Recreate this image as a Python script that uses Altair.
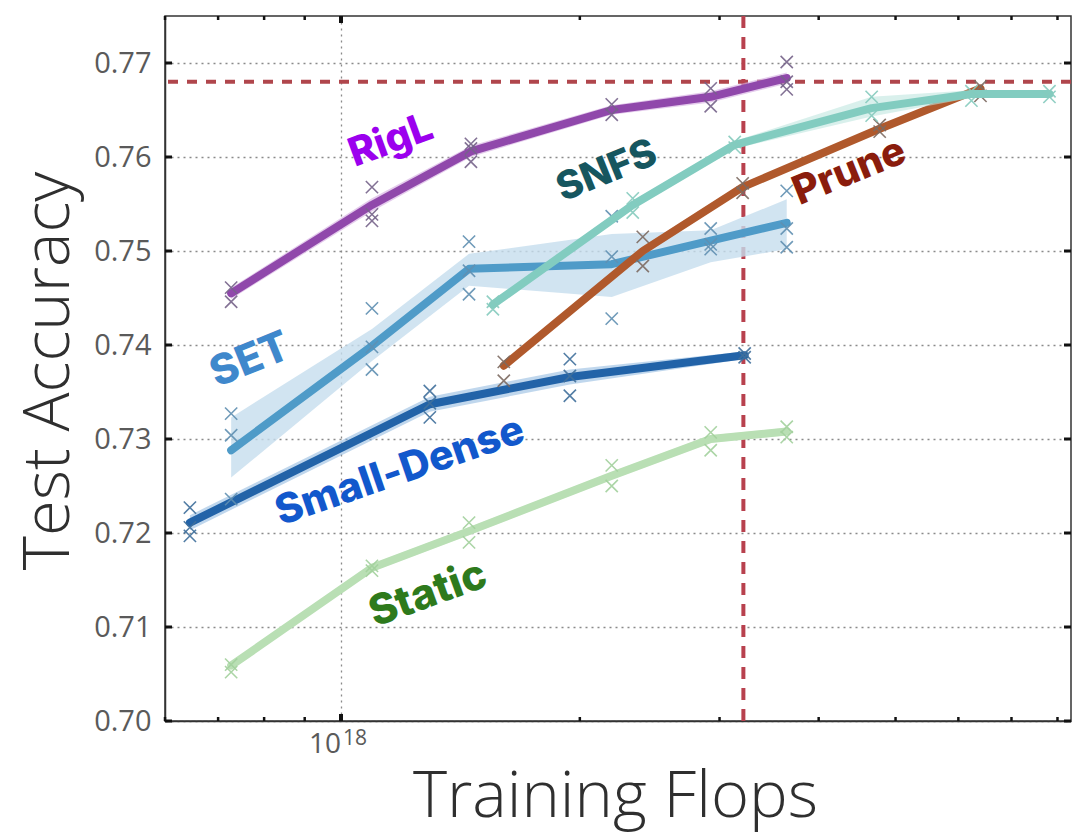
import altair as alt
import pandas as pd

# ---- data: training FLOPs, mean test accuracy, confidence band, individual runs ----
rigl_flops = [7.27e17, 1.094e18, 1.458e18, 2.194e18, 2.924e18, 3.646e18]
rigl_mean = [0.7455, 0.7549, 0.7606, 0.7650, 0.7664, 0.7684]
rigl_lo = [0.7449, 0.7542, 0.7600, 0.7645, 0.7658, 0.7678]
rigl_hi = [0.7461, 0.7556, 0.7612, 0.7655, 0.7670, 0.7690]
rigl_runs = [[0.7461, 0.7446], [0.7568, 0.7532, 0.7539], [0.7614, 0.7595, 0.7609],
             [0.7656, 0.7645], [0.7673, 0.7654], [0.7701, 0.7672, 0.7680]]

set_flops = [7.27e17, 1.094e18, 1.450e18, 2.194e18, 2.924e18, 3.646e18]
set_mean = [0.7288, 0.7399, 0.7481, 0.7486, 0.7511, 0.7530]
set_lo = [0.7259, 0.7383, 0.7463, 0.7451, 0.7488, 0.7502]
set_hi = [0.7323, 0.7417, 0.7497, 0.7518, 0.7522, 0.7555]
set_runs = [[0.7327, 0.7304, 0.7236], [0.7439, 0.7374, 0.7398], [0.7510, 0.7454, 0.7479],
            [0.7494, 0.7428, 0.7537], [0.7524, 0.7502, 0.7507], [0.7564, 0.7524, 0.7504]]

dense_flops = [6.45e17, 1.294e18, 1.943e18, 3.227e18]
dense_mean = [0.7211, 0.7337, 0.7366, 0.7389]
dense_lo = [0.7203, 0.7329, 0.7358, 0.7385]
dense_hi = [0.7219, 0.7345, 0.7374, 0.7393]
dense_runs = [[0.7227, 0.7197, 0.7206], [0.7351, 0.7323, 0.7338],
              [0.7385, 0.7346, 0.7367], [0.7391, 0.7387]]

snfs_flops = [1.554e18, 2.332e18, 3.135e18, 4.665e18, 6.232e18, 7.816e18]
snfs_mean = [0.7443, 0.7549, 0.7613, 0.7652, 0.7667, 0.7667]
snfs_lo = [0.7439, 0.7545, 0.7609, 0.7643, 0.7663, 0.7664]
snfs_hi = [0.7447, 0.7553, 0.7617, 0.7664, 0.7671, 0.7670]
snfs_runs = [[0.7446, 0.7438], [0.7556, 0.7541], [0.7616, 0.7610],
             [0.7664, 0.7644], [0.7670, 0.7660], [0.7670, 0.7664]]

prune_flops = [1.604e18, 2.401e18, 3.208e18, 4.775e18, 6.398e18]
prune_mean = [0.7378, 0.7500, 0.7568, 0.7630, 0.7673]
prune_lo = [0.7374, 0.7495, 0.7564, 0.7627, 0.7670]
prune_hi = [0.7382, 0.7505, 0.7572, 0.7633, 0.7676]
prune_runs = [[0.7382, 0.7362], [0.7515, 0.7484], [0.7572, 0.7562],
              [0.7634, 0.7627], [0.7675, 0.7665]]

static_flops = [7.27e17, 1.094e18, 1.450e18, 2.194e18, 2.924e18, 3.646e18]
static_mean = [0.7059, 0.7163, 0.7202, 0.7261, 0.7300, 0.7308]
static_lo = [0.7055, 0.7159, 0.7198, 0.7257, 0.7296, 0.7304]
static_hi = [0.7063, 0.7167, 0.7206, 0.7265, 0.7304, 0.7312]
static_runs = [[0.7060, 0.7052], [0.7165, 0.7160], [0.7211, 0.7190],
               [0.7272, 0.7250], [0.7307, 0.7288], [0.7313, 0.7302]]

# dense baseline (reference cross-hair)
baseline_flops = 3.215e18
baseline_acc = 0.768

# axis ticks
y_ticks = [0.70, 0.71, 0.72, 0.73, 0.74, 0.75, 0.76, 0.77]
x_minor_ticks = [6e17, 7e17, 8e17, 9e17, 2e18, 3e18, 4e18, 5e18, 6e18, 7e18, 8e18]
x_major_ticks = [1e18]

# in-plot labels: text, anchor FLOPs, anchor accuracy
label_text = ["RigL", "SNFS", "Prune", "SET", "Small-Dense", "Static"]
label_flops = [1.156e18, 2.163e18, 4.375e18, 7.68e17, 1.187e18, 1.287e18]
label_acc = [0.7617, 0.7585, 0.7584, 0.7384, 0.7265, 0.7135]

series = {
    "Static": (static_flops, static_mean, static_lo, static_hi, static_runs),
    "Small-Dense": (dense_flops, dense_mean, dense_lo, dense_hi, dense_runs),
    "SET": (set_flops, set_mean, set_lo, set_hi, set_runs),
    "RigL": (rigl_flops, rigl_mean, rigl_lo, rigl_hi, rigl_runs),
    "Prune": (prune_flops, prune_mean, prune_lo, prune_hi, prune_runs),
    "SNFS": (snfs_flops, snfs_mean, snfs_lo, snfs_hi, snfs_runs),
}

# ---- styling ----
W, H = 906, 705
style = {
    "Static": dict(line="#b9dfb4", band="#d3ecd0", band_op=0.6, marker="#a3d19d"),
    "Small-Dense": dict(line="#2263a8", band="#8db6de", band_op=0.55, marker="#40709c"),
    "SET": dict(line="#4f9bc8", band="#c6dded", band_op=0.8, marker="#6090b2"),
    "RigL": dict(line="#9048ab", band="#d2a9e0", band_op=0.6, marker="#76638a"),
    "Prune": dict(line="#b0592c", band="#dcae94", band_op=0.5, marker="#7d6b62"),
    "SNFS": dict(line="#82ccc0", band="#bfe6df", band_op=0.6, marker="#86cbbe"),
}
label_style = {
    "RigL": dict(color="#9b00ee", angle=340, size=40),
    "SNFS": dict(color="#16565f", angle=338, size=39),
    "Prune": dict(color="#8a1c0c", angle=338, size=40),
    "SET": dict(color="#3f88cc", angle=338, size=42),
    "Small-Dense": dict(color="#1258cc", angle=341, size=41),
    "Static": dict(color="#2e7a1c", angle=340, size=42),
}
X_SHAPE = "M-1,-1L1,1M1,-1L-1,1"
AXIS_FONT = "Open Sans"
LABEL_FONT = "Inter"

x_scale = alt.Scale(type="log", domain=[6e17, 8.32e18], nice=False)
y_scale = alt.Scale(domain=[0.70, 0.775], nice=False, zero=False)

x_axis = alt.Axis(values=[1e18], labels=False, ticks=False, grid=True,
                  gridColor="#8a8a8a", gridDash=[2, 4], gridWidth=1.3,
                  domainColor="#333333", domainWidth=1.5,
                  title="Training Flops", titleFont=AXIS_FONT, titleFontSize=65,
                  titleFontWeight=300, titleColor="#2f2f2f",
                  titleX=W / 2 - 3, titleY=95, titleBaseline="alphabetic",
                  titleAlign="center")
y_axis = alt.Axis(values=y_ticks, format=".2f", ticks=False, grid=True,
                  gridColor="#8a8a8a", gridDash=[2, 4], gridWidth=1.3,
                  domainColor="#333333", domainWidth=1.5,
                  labelFont=AXIS_FONT, labelFontSize=29, labelColor="#5a5a5a",
                  labelPadding=14,
                  title="Test Accuracy", titleFont=AXIS_FONT, titleFontSize=65,
                  titleFontWeight=300, titleColor="#2f2f2f",
                  titleAngle=270, titleX=-97, titleY=H / 2 + 2,
                  titleBaseline="alphabetic", titleAlign="center")


def X(field):
    return alt.X(field, type="quantitative", scale=x_scale, axis=x_axis)


def Y(field):
    return alt.Y(field, type="quantitative", scale=y_scale, axis=y_axis)


layers = []

# tick marks drawn inside the frame on all four sides
yt = pd.DataFrame({"v": y_ticks})
layers.append(alt.Chart(yt).mark_rule(color="#111111", strokeWidth=3).encode(
    y=Y("v"), x=alt.value(0), x2=alt.value(7)))
layers.append(alt.Chart(yt).mark_rule(color="#111111", strokeWidth=3).encode(
    y=Y("v"), x=alt.value(W - 7), x2=alt.value(W)))
xm = pd.DataFrame({"v": x_minor_ticks})
layers.append(alt.Chart(xm).mark_rule(color="#111111", strokeWidth=2.5).encode(
    x=X("v"), y=alt.value(H), y2=alt.value(H - 4)))
layers.append(alt.Chart(xm).mark_rule(color="#111111", strokeWidth=2.5).encode(
    x=X("v"), y=alt.value(0), y2=alt.value(4)))
xM = pd.DataFrame({"v": x_major_ticks})
layers.append(alt.Chart(xM).mark_rule(color="#111111", strokeWidth=4).encode(
    x=X("v"), y=alt.value(H), y2=alt.value(H - 7)))
layers.append(alt.Chart(xM).mark_rule(color="#111111", strokeWidth=4).encode(
    x=X("v"), y=alt.value(0), y2=alt.value(7)))

# x tick label 10^18
layers.append(alt.Chart(xM).mark_text(text="10", align="right", baseline="top",
                                      font=AXIS_FONT, fontSize=28, color="#5a5a5a").encode(
    x=X("v"), y=alt.value(H + 10)))
layers.append(alt.Chart(xM).mark_text(text="18", align="left", baseline="top", dx=2,
                                      font=AXIS_FONT, fontSize=21, color="#5a5a5a").encode(
    x=X("v"), y=alt.value(H + 7)))

# dense baseline cross-hair
layers.append(alt.Chart(pd.DataFrame({"v": [baseline_acc]})).mark_rule(
    color="#b0464c", strokeWidth=4, strokeDash=[10, 9]).encode(y=Y("v")))
layers.append(alt.Chart(pd.DataFrame({"v": [baseline_flops]})).mark_rule(
    color="#b8414e", strokeWidth=4, strokeDash=[12, 9]).encode(x=X("v")))

# each method: confidence band, mean line, individual runs
for name, (flops, mean, lo, hi, runs) in series.items():
    st = style[name]
    df = pd.DataFrame({"flops": flops, "mean": mean, "lo": lo, "hi": hi})
    rf, ra = [], []
    for f, rr in zip(flops, runs):
        for r in rr:
            rf.append(f)
            ra.append(r)
    runs_df = pd.DataFrame({"flops": rf, "acc": ra})
    layers.append(alt.Chart(df).mark_area(color=st["band"], opacity=st["band_op"]).encode(
        x=X("flops"), y=Y("lo"), y2="hi"))
    layers.append(alt.Chart(df).mark_line(color=st["line"], strokeWidth=8,
                                          strokeCap="round", strokeJoin="round").encode(
        x=X("flops"), y=Y("mean")))
    layers.append(alt.Chart(runs_df).mark_point(shape=X_SHAPE, size=150, filled=False,
                                                strokeWidth=1.6, color=st["marker"],
                                                opacity=0.9).encode(
        x=X("flops"), y=Y("acc")))

# method labels
for t, f, a in zip(label_text, label_flops, label_acc):
    ls = label_style[t]
    layers.append(alt.Chart(pd.DataFrame({"flops": [f], "acc": [a], "t": [t]})).mark_text(
        align="center", baseline="middle", font=LABEL_FONT, fontWeight=800,
        fontSize=ls["size"], angle=ls["angle"], color=ls["color"]).encode(
        x=X("flops"), y=Y("acc"), text="t:N"))

chart = alt.layer(*layers).properties(
    width=W, height=H,
    autosize=alt.AutoSizeParams(type="none"),
    padding={"left": 165, "top": 16, "right": 3, "bottom": 114},
    background="white",
).configure_view(stroke="#333333", strokeWidth=1.5)

chart.save("out.html", embed_options={"renderer": "svg", "actions": False})
